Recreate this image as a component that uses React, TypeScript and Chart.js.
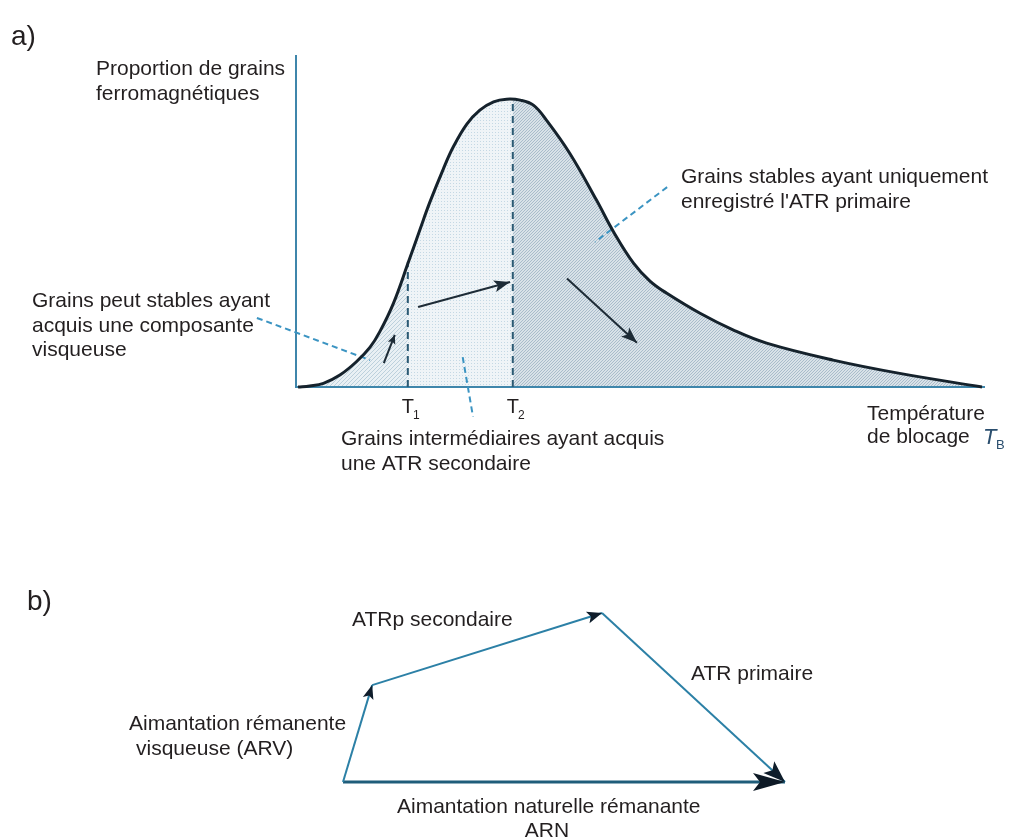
import React, { useEffect, useRef } from "react";
import { Chart, registerables } from "chart.js";

Chart.register(...registerables);

// ---------------- Part a) : blocking-temperature spectrum ----------------
// Température de blocage (arbitrary units, 0..100) and proportion of grains (0..100)
const curveT = [0.3, 2.0, 4.0, 6.4, 8.8, 10.8, 12.2, 14.2, 16.4, 18.1, 19.5, 21.5, 22.9, 24.9, 26.8, 28.8, 30.7, 32.7, 34.6, 36.5, 39.9, 43.8, 46.3, 49.2, 51.6, 54.0, 58.9, 63.7, 68.6, 78.3, 88.0, 100];
const curveP = [0, 0.3, 1.1, 3.6, 7.6, 12.0, 16.6, 25.2, 37.7, 47.6, 55.6, 65.8, 72.2, 79.2, 83.4, 85.9, 86.7, 86.4, 84.9, 80.4, 70.4, 56.3, 46.7, 37.3, 31.9, 28.3, 22.2, 17.2, 13.2, 8.1, 4.1, 0];

const thresholdNames = ["T1", "T2"];
const thresholdT = [16.3, 31.6];
const thresholdP = [37.7, 86.5];

// arrows inside the distribution
const arrowFromT = [12.8, 17.8, 39.5];
const arrowFromP = [7.2, 24.1, 32.7];
const arrowToT = [14.4, 31.2, 49.7];
const arrowToP = [15.7, 31.6, 13.3];

// dashed leader lines from annotations
const leaderFromT = [-5.7, 24.3, 54.1];
const leaderFromP = [20.8, 9.0, 60.2];
const leaderToT = [10.8, 25.8, 43.6];
const leaderToP = [8.1, -8.9, 43.7];

// ---------------- Part b) : vector diagram ----------------
const vectorNames = ["ARV", "ATRp secondaire", "ATR primaire"];
const vertexX = [0, 6.6, 58.6, 100];
const vertexY = [0, 21.9, 38.2, 0];
const arnX = [0, 100];
const arnY = [0, 0];

const FONT = '"Liberation Sans", Arial, Helvetica, sans-serif';
const TEXT = "#231f20";

type Label = { text: string; x: number; y: number; size?: number; align?: CanvasTextAlign };

const labelsA: Label[] = [
  { text: "a)", x: 11, y: 45, size: 28 },
  { text: "Proportion de grains", x: 96, y: 75 },
  { text: "ferromagnétiques", x: 96, y: 100 },
  { text: "Grains stables ayant uniquement", x: 681, y: 183 },
  { text: "enregistré l'ATR primaire", x: 681, y: 208 },
  { text: "Grains peut stables ayant", x: 32, y: 307 },
  { text: "acquis une composante", x: 32, y: 332 },
  { text: "visqueuse", x: 32, y: 356 },
  { text: "Grains intermédiaires ayant acquis", x: 341, y: 445 },
  { text: "une ATR secondaire", x: 341, y: 470 },
  { text: "Température", x: 867, y: 420 },
  { text: "de blocage", x: 867, y: 443 },
];

const labelsB: Label[] = [
  { text: "b)", x: 27, y: 610, size: 28 },
  { text: "ATRp secondaire", x: 352, y: 626 },
  { text: "ATR primaire", x: 691, y: 680 },
  { text: "Aimantation rémanente", x: 129, y: 730 },
  { text: "visqueuse (ARV)", x: 136, y: 755 },
  { text: "Aimantation naturelle rémanante", x: 397, y: 813 },
  { text: "ARN", x: 547, y: 837, align: "center" },
];

function drawLabels(ctx: CanvasRenderingContext2D, labels: Label[]) {
  ctx.save();
  ctx.fillStyle = TEXT;
  ctx.textBaseline = "alphabetic";
  for (const l of labels) {
    ctx.font = `${l.size ?? 21}px ${FONT}`;
    ctx.textAlign = l.align ?? "left";
    ctx.fillText(l.text, l.x, l.y);
  }
  ctx.restore();
}

function drawHead(ctx: CanvasRenderingContext2D, fx: number, fy: number, tx: number, ty: number, len: number, half: number, color: string) {
  const ang = Math.atan2(ty - fy, tx - fx);
  ctx.save();
  ctx.translate(tx, ty);
  ctx.rotate(ang);
  ctx.beginPath();
  ctx.moveTo(0, 0);
  ctx.lineTo(-len, -half);
  ctx.lineTo(-len * 0.78, 0);
  ctx.lineTo(-len, half);
  ctx.closePath();
  ctx.fillStyle = color;
  ctx.fill();
  ctx.restore();
}

const arrowHeadsPlugin = {
  id: "arrowHeads",
  afterDatasetsDraw(chart: any) {
    const ctx = chart.ctx;
    chart.data.datasets.forEach((ds: any, i: number) => {
      if (!ds.arrow) return;
      const pts = chart.getDatasetMeta(i).data;
      const n = pts.length;
      const a = pts[n - 2], b = pts[n - 1];
      drawHead(ctx, a.x, a.y, b.x, b.y, ds.arrow.len, ds.arrow.half, ds.arrow.color);
    });
  },
};

function makeHatch(ctx: CanvasRenderingContext2D, bg: string, fg: string, s: number, lw: number) {
  const c = document.createElement("canvas");
  c.width = s;
  c.height = s;
  const g = c.getContext("2d")!;
  g.fillStyle = bg;
  g.fillRect(0, 0, s, s);
  g.strokeStyle = fg;
  g.lineWidth = lw;
  g.beginPath();
  g.moveTo(0, s);
  g.lineTo(s, 0);
  g.moveTo(-2, 2);
  g.lineTo(2, -2);
  g.moveTo(s - 2, s + 2);
  g.lineTo(s + 2, s - 2);
  g.stroke();
  return ctx.createPattern(c, "repeat")!;
}

function makeDots(ctx: CanvasRenderingContext2D, bg: string, fg: string, s: number) {
  const c = document.createElement("canvas");
  c.width = s;
  c.height = s;
  const g = c.getContext("2d")!;
  g.fillStyle = bg;
  g.fillRect(0, 0, s, s);
  g.fillStyle = fg;
  g.fillRect(0, 0, 1, 1);
  return ctx.createPattern(c, "repeat")!;
}

const partAPlugin = {
  id: "partA",
  beforeDatasetsDraw(chart: any) {
    const { ctx, chartArea } = chart;
    const xs = chart.scales.x, ys = chart.scales.y;
    const meta = chart.getDatasetMeta(0);
    const line: any = meta.dataset;
    if (line && line.updateControlPoints) line.updateControlPoints(chartArea, "x");
    const pts: any[] = meta.data;
    const y0 = ys.getPixelForValue(0);
    const fills = [
      makeHatch(ctx, "#e9f0f4", "#bcd0dc", 4, 1),
      makeDots(ctx, "#eff4f7", "#c4d8e4", 3),
      makeHatch(ctx, "#d9e2e8", "#a9bccb", 3, 1),
    ];
    const bounds = [0, thresholdT[0], thresholdT[1], 100];
    for (let r = 0; r < 3; r++) {
      const xa = xs.getPixelForValue(bounds[r]);
      const xb = xs.getPixelForValue(bounds[r + 1]);
      ctx.save();
      ctx.beginPath();
      ctx.rect(xa, 0, xb - xa, chart.height);
      ctx.clip();
      ctx.beginPath();
      ctx.moveTo(pts[0].x, pts[0].y);
      for (let i = 1; i < pts.length; i++) {
        const p = pts[i - 1], c = pts[i];
        if (p.cp2x !== undefined && c.cp1x !== undefined) {
          ctx.bezierCurveTo(p.cp2x, p.cp2y, c.cp1x, c.cp1y, c.x, c.y);
        } else {
          ctx.lineTo(c.x, c.y);
        }
      }
      ctx.lineTo(pts[pts.length - 1].x, y0);
      ctx.lineTo(pts[0].x, y0);
      ctx.closePath();
      ctx.fillStyle = fills[r];
      ctx.fill();
      ctx.restore();
    }
    // axes
    const x0 = xs.getPixelForValue(0);
    ctx.save();
    ctx.strokeStyle = "#3f86ab";
    ctx.lineWidth = 2;
    ctx.beginPath();
    ctx.moveTo(x0, ys.getPixelForValue(100));
    ctx.lineTo(x0, y0);
    ctx.lineTo(xs.getPixelForValue(100) + 3, y0);
    ctx.stroke();
    ctx.restore();
  },
  afterDraw(chart: any) {
    const ctx = chart.ctx;
    const xs = chart.scales.x;
    drawLabels(ctx, labelsA);
    ctx.save();
    ctx.fillStyle = TEXT;
    thresholdNames.forEach((name, i) => {
      const px = xs.getPixelForValue(thresholdT[i]);
      ctx.font = `20px ${FONT}`;
      const w = ctx.measureText(name[0]).width;
      ctx.fillText(name[0], px - w / 2, 413);
      ctx.font = `12px ${FONT}`;
      ctx.fillText(name.slice(1), px + w / 2 - 1, 419);
    });
    ctx.fillStyle = "#2a4e6e";
    ctx.font = `italic 22px ${FONT}`;
    ctx.fillText("T", 983, 444);
    ctx.font = `13px ${FONT}`;
    ctx.fillText("B", 996, 449);
    ctx.restore();
  },
};

const partBPlugin = {
  id: "partB",
  afterDraw(chart: any) {
    drawLabels(chart.ctx, labelsB);
  },
};

function pts(xs: number[], ys: number[]) {
  return xs.map((x, i) => ({ x, y: ys[i] }));
}

function buildChartA(canvas: HTMLCanvasElement) {
  const datasets: any[] = [
    {
      label: "Proportion de grains ferromagnétiques",
      data: pts(curveT, curveP),
      borderColor: "#15222c",
      borderWidth: 3,
      pointRadius: 0,
      tension: 0.4,
      fill: false,
      clip: false,
      order: 0,
    },
  ];
  thresholdNames.forEach((name, i) => {
    datasets.push({
      label: name,
      data: [{ x: thresholdT[i], y: 0 }, { x: thresholdT[i], y: thresholdP[i] }],
      borderColor: "#2b5a73",
      borderWidth: 2,
      borderDash: [7, 5],
      pointRadius: 0,
      clip: false,
      order: 2,
    });
  });
  const heads = [
    { len: 9, half: 4 },
    { len: 16, half: 6 },
    { len: 16, half: 6 },
  ];
  arrowFromT.forEach((_, i) => {
    datasets.push({
      label: "arrow" + i,
      data: [{ x: arrowFromT[i], y: arrowFromP[i] }, { x: arrowToT[i], y: arrowToP[i] }],
      borderColor: "#1d2b36",
      borderWidth: 2,
      pointRadius: 0,
      clip: false,
      order: 1,
      arrow: { ...heads[i], color: "#1d2b36" },
    });
  });
  leaderFromT.forEach((_, i) => {
    datasets.push({
      label: "leader" + i,
      data: [{ x: leaderFromT[i], y: leaderFromP[i] }, { x: leaderToT[i], y: leaderToP[i] }],
      borderColor: "#3b94c2",
      borderWidth: 2,
      borderDash: [6, 4],
      pointRadius: 0,
      clip: false,
      order: 3,
    });
  });
  return new Chart(canvas, {
    type: "line",
    data: { datasets },
    options: {
      responsive: false,
      animation: false,
      events: [],
      layout: { padding: { left: 296, right: 27, top: 55, bottom: 451 } },
      scales: {
        x: { type: "linear", min: 0, max: 100, display: false },
        y: { type: "linear", min: 0, max: 100, display: false },
      },
      plugins: { legend: { display: false }, tooltip: { enabled: false } },
    } as any,
    plugins: [partAPlugin, arrowHeadsPlugin],
  });
}

function buildChartB(canvas: HTMLCanvasElement) {
  const datasets: any[] = [];
  const headSizes = [
    { len: 14, half: 5.5 },
    { len: 15, half: 6 },
    { len: 22, half: 8 },
  ];
  vectorNames.forEach((name, i) => {
    datasets.push({
      label: name,
      data: [{ x: vertexX[i], y: vertexY[i] }, { x: vertexX[i + 1], y: vertexY[i + 1] }],
      borderColor: "#2c80a6",
      borderWidth: 2,
      pointRadius: 0,
      clip: false,
      order: 1,
      arrow: { ...headSizes[i], color: "#0f1d2b" },
    });
  });
  datasets.push({
    label: "ARN",
    data: pts(arnX, arnY),
    borderColor: "#1f5d7a",
    borderWidth: 3,
    pointRadius: 0,
    clip: false,
    order: 2,
    arrow: { len: 32, half: 9, color: "#0e1a26" },
  });
  return new Chart(canvas, {
    type: "line",
    data: { datasets },
    options: {
      responsive: false,
      animation: false,
      events: [],
      layout: { padding: { left: 343, right: 224, top: 605, bottom: 56 } },
      scales: {
        x: { type: "linear", min: 0, max: 100, display: false },
        y: { type: "linear", min: 0, max: 40, display: false },
      },
      plugins: { legend: { display: false }, tooltip: { enabled: false } },
    } as any,
    plugins: [partBPlugin, arrowHeadsPlugin],
  });
}

export default function App() {
  const refA = useRef<HTMLCanvasElement>(null);
  const refB = useRef<HTMLCanvasElement>(null);
  useEffect(() => {
    const a = buildChartA(refA.current!);
    const b = buildChartB(refB.current!);
    return () => {
      a.destroy();
      b.destroy();
    };
  }, []);
  const cs: React.CSSProperties = { position: "absolute", left: 0, top: 0, width: 1009, height: 838 };
  return (
    <div style={{ position: "absolute", left: 0, top: 0, width: 1009, height: 838, background: "#fff", overflow: "hidden" }}>
      <canvas ref={refA} width={1009} height={838} style={cs} />
      <canvas ref={refB} width={1009} height={838} style={cs} />
    </div>
  );
}
